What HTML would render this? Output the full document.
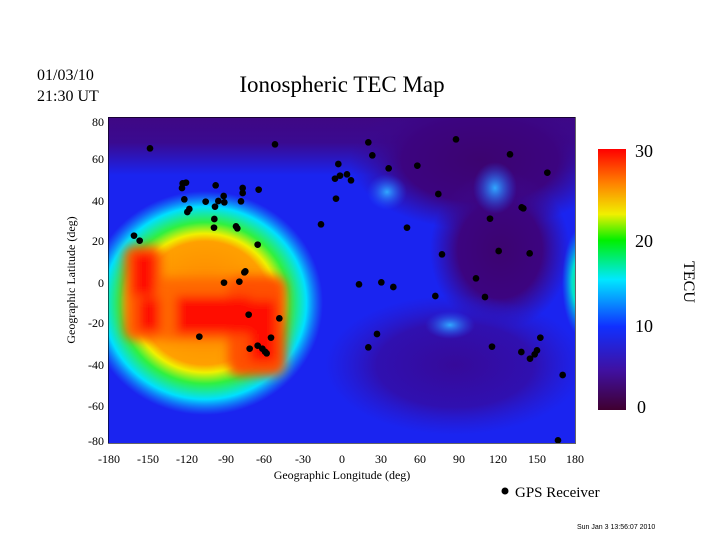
<!DOCTYPE html>
<html><head><style>
body{margin:0;background:#fff;width:720px;height:540px;overflow:hidden}
svg{display:block}
text{font-family:"Liberation Serif",serif}
</style></head><body>
<svg width="720" height="540" xmlns="http://www.w3.org/2000/svg">
<defs>
<filter id="b2" x="-50%" y="-50%" width="200%" height="200%"><feGaussianBlur stdDeviation="5"/></filter>
<clipPath id="cp"><rect x="108" y="117" width="467" height="326"/></clipPath>
<linearGradient id="cb" x1="0" y1="0" x2="0" y2="1">
<stop offset="0" stop-color="#ff0000"/>
<stop offset="0.13" stop-color="#ff8000"/>
<stop offset="0.25" stop-color="#f0f000"/>
<stop offset="0.35" stop-color="#00f000"/>
<stop offset="0.5" stop-color="#00e8ff"/>
<stop offset="0.68" stop-color="#1030ff"/>
<stop offset="0.85" stop-color="#4010a0"/>
<stop offset="1" stop-color="#400030"/>
</linearGradient>
<linearGradient id="top" x1="0" y1="0" x2="0" y2="1">
<stop offset="0" stop-color="#400680"/><stop offset="0.5" stop-color="#3a0a90"/><stop offset="1" stop-color="#3a0a90" stop-opacity="0"/>
</linearGradient>
<radialGradient id="pur"><stop offset="0" stop-color="#3c0470"/><stop offset="0.6" stop-color="#3c0480"/><stop offset="1" stop-color="#3a0a90" stop-opacity="0"/></radialGradient>
<radialGradient id="pur2"><stop offset="0" stop-color="#360a9a"/><stop offset="0.6" stop-color="#3010b0"/><stop offset="1" stop-color="#2a18c8" stop-opacity="0"/></radialGradient>
<radialGradient id="lb"><stop offset="0" stop-color="#30a8ff"/><stop offset="1" stop-color="#2050ff" stop-opacity="0"/></radialGradient>
<radialGradient id="gr"><stop offset="0" stop-color="#30f050"/><stop offset="0.5" stop-color="#00e0d0"/><stop offset="1" stop-color="#00a0ff" stop-opacity="0"/></radialGradient>
<radialGradient id="hot"><stop offset="0" stop-color="#ff8000"/><stop offset="0.55" stop-color="#ffa000"/><stop offset="0.62" stop-color="#f0f000"/><stop offset="0.72" stop-color="#30f040"/><stop offset="0.86" stop-color="#00e0ff"/><stop offset="1" stop-color="#10a0ff" stop-opacity="0"/></radialGradient>
</defs>
<g clip-path="url(#cp)">
<rect x="100" y="100" width="490" height="360" fill="#1a24f0"/>
<rect x="100" y="110" width="490" height="65" fill="url(#top)"/>
<ellipse cx="480" cy="160" rx="130" ry="70" fill="url(#pur)"/>
<ellipse cx="500" cy="250" rx="70" ry="80" fill="url(#pur)"/>
<ellipse cx="455" cy="365" rx="130" ry="70" fill="url(#pur2)"/>
<ellipse cx="387" cy="192" rx="20" ry="18" fill="url(#lb)"/>
<ellipse cx="495" cy="188" rx="22" ry="26" fill="url(#lb)"/>
<ellipse cx="450" cy="325" rx="25" ry="14" fill="url(#lb)"/>
<ellipse cx="582" cy="282" rx="20" ry="55" fill="url(#gr)"/>
<ellipse cx="205" cy="303" rx="118" ry="112" fill="url(#hot)"/>
<g filter="url(#b2)">
<rect x="124" y="246" width="38" height="94" rx="10" fill="#ff6000"/>
<rect x="156" y="278" width="108" height="62" rx="10" fill="#ff6800"/>
<rect x="228" y="276" width="58" height="100" rx="12" fill="#ff5000"/>
<rect x="132" y="252" width="24" height="44" fill="#ff1000"/>
<rect x="138" y="298" width="22" height="34" fill="#ff1000"/>
<rect x="176" y="296" width="74" height="38" fill="#ff1000"/>
<rect x="250" y="300" width="26" height="62" fill="#ff1000"/>
</g>
<g transform="translate(100,110) scale(0.33333)" fill="#000">
<circle cx="150" cy="115" r="10"/><circle cx="525" cy="103" r="10"/><circle cx="805" cy="97" r="10"/><circle cx="817" cy="136" r="10"/><circle cx="1068" cy="88" r="10"/><circle cx="1230" cy="133" r="10"/><circle cx="1342" cy="188" r="10"/><circle cx="715" cy="162" r="10"/><circle cx="866" cy="175" r="10"/><circle cx="952" cy="167" r="10"/><circle cx="705" cy="206" r="10"/><circle cx="720" cy="197" r="10"/><circle cx="741" cy="193" r="10"/><circle cx="753" cy="211" r="10"/><circle cx="1015" cy="252" r="10"/><circle cx="708" cy="266" r="10"/><circle cx="1265" cy="292" r="10"/><circle cx="1270" cy="295" r="10"/><circle cx="1170" cy="326" r="10"/><circle cx="663" cy="343" r="10"/><circle cx="921" cy="353" r="10"/><circle cx="1026" cy="433" r="10"/><circle cx="1196" cy="423" r="10"/><circle cx="1289" cy="430" r="10"/><circle cx="1128" cy="505" r="10"/><circle cx="1155" cy="561" r="10"/><circle cx="777" cy="523" r="10"/><circle cx="844" cy="517" r="10"/><circle cx="880" cy="531" r="10"/><circle cx="1006" cy="558" r="10"/><circle cx="831" cy="672" r="10"/><circle cx="805" cy="712" r="10"/><circle cx="1176" cy="710" r="10"/><circle cx="1264" cy="726" r="10"/><circle cx="1290" cy="746" r="10"/><circle cx="1304" cy="733" r="10"/><circle cx="1311" cy="721" r="10"/><circle cx="1321" cy="683" r="10"/><circle cx="1388" cy="795" r="10"/><circle cx="1374" cy="991" r="10"/><circle cx="248" cy="220" r="10"/><circle cx="258" cy="218" r="10"/><circle cx="246" cy="234" r="10"/><circle cx="347" cy="226" r="10"/><circle cx="428" cy="234" r="10"/><circle cx="428" cy="249" r="10"/><circle cx="476" cy="239" r="10"/><circle cx="253" cy="268" r="10"/><circle cx="317" cy="275" r="10"/><circle cx="355" cy="273" r="10"/><circle cx="371" cy="258" r="10"/><circle cx="373" cy="277" r="10"/><circle cx="345" cy="290" r="10"/><circle cx="423" cy="274" r="10"/><circle cx="268" cy="297" r="10"/><circle cx="262" cy="306" r="10"/><circle cx="343" cy="327" r="10"/><circle cx="342" cy="353" r="10"/><circle cx="408" cy="349" r="10"/><circle cx="412" cy="355" r="10"/><circle cx="473" cy="404" r="10"/><circle cx="102" cy="377" r="10"/><circle cx="119" cy="392" r="10"/><circle cx="436" cy="484" r="10"/><circle cx="433" cy="487" r="10"/><circle cx="372" cy="518" r="10"/><circle cx="418" cy="515" r="10"/><circle cx="446" cy="614" r="10"/><circle cx="538" cy="625" r="10"/><circle cx="298" cy="680" r="10"/><circle cx="513" cy="683" r="10"/><circle cx="473" cy="707" r="10"/><circle cx="449" cy="716" r="10"/><circle cx="487" cy="716" r="10"/><circle cx="495" cy="725" r="10"/><circle cx="500" cy="730" r="10"/>
</g>
</g>
<rect x="108.5" y="117.5" width="467" height="326" fill="none" stroke="#000" stroke-width="0.6"/>
<g font-size="12" text-anchor="end">
<text x="104" y="126">80</text><text x="104" y="163">60</text><text x="104" y="205">40</text><text x="104" y="245">20</text><text x="104" y="287">0</text><text x="104" y="327">-20</text><text x="104" y="369">-40</text><text x="104" y="410">-60</text><text x="104" y="445">-80</text>
</g>
<g font-size="12" text-anchor="middle">
<text x="109" y="463">-180</text><text x="148" y="463">-150</text><text x="187" y="463">-120</text><text x="226" y="463">-90</text><text x="264" y="463">-60</text><text x="303" y="463">-30</text><text x="342" y="463">0</text><text x="381" y="463">30</text><text x="420" y="463">60</text><text x="459" y="463">90</text><text x="498" y="463">120</text><text x="537" y="463">150</text><text x="575" y="463">180</text>
</g>
<text x="342" y="479" font-size="12" text-anchor="middle">Geographic Longitude (deg)</text>
<text transform="translate(75,280) rotate(-90)" font-size="12" text-anchor="middle">Geographic Latitude (deg)</text>
<text x="342" y="92" font-size="23" text-anchor="middle">Ionospheric TEC Map</text>
<text x="37" y="80" font-size="16">01/03/10</text>
<text x="37" y="101" font-size="16">21:30 UT</text>
<rect x="598" y="149" width="28" height="261" fill="url(#cb)"/>
<g font-size="18"><text x="635" y="157">30</text><text x="635" y="247">20</text><text x="635" y="332">10</text><text x="637" y="413">0</text></g>
<text transform="translate(684,282) rotate(90)" font-size="16" text-anchor="middle">TECU</text>
<circle cx="505" cy="491" r="3.5" fill="#000"/>
<text x="515" y="497" font-size="15">GPS Receiver</text>
<text x="577" y="529" font-size="7" style="font-family:'Liberation Sans',sans-serif">Sun Jan  3 13:56:07 2010</text>
</svg>
</body></html>
